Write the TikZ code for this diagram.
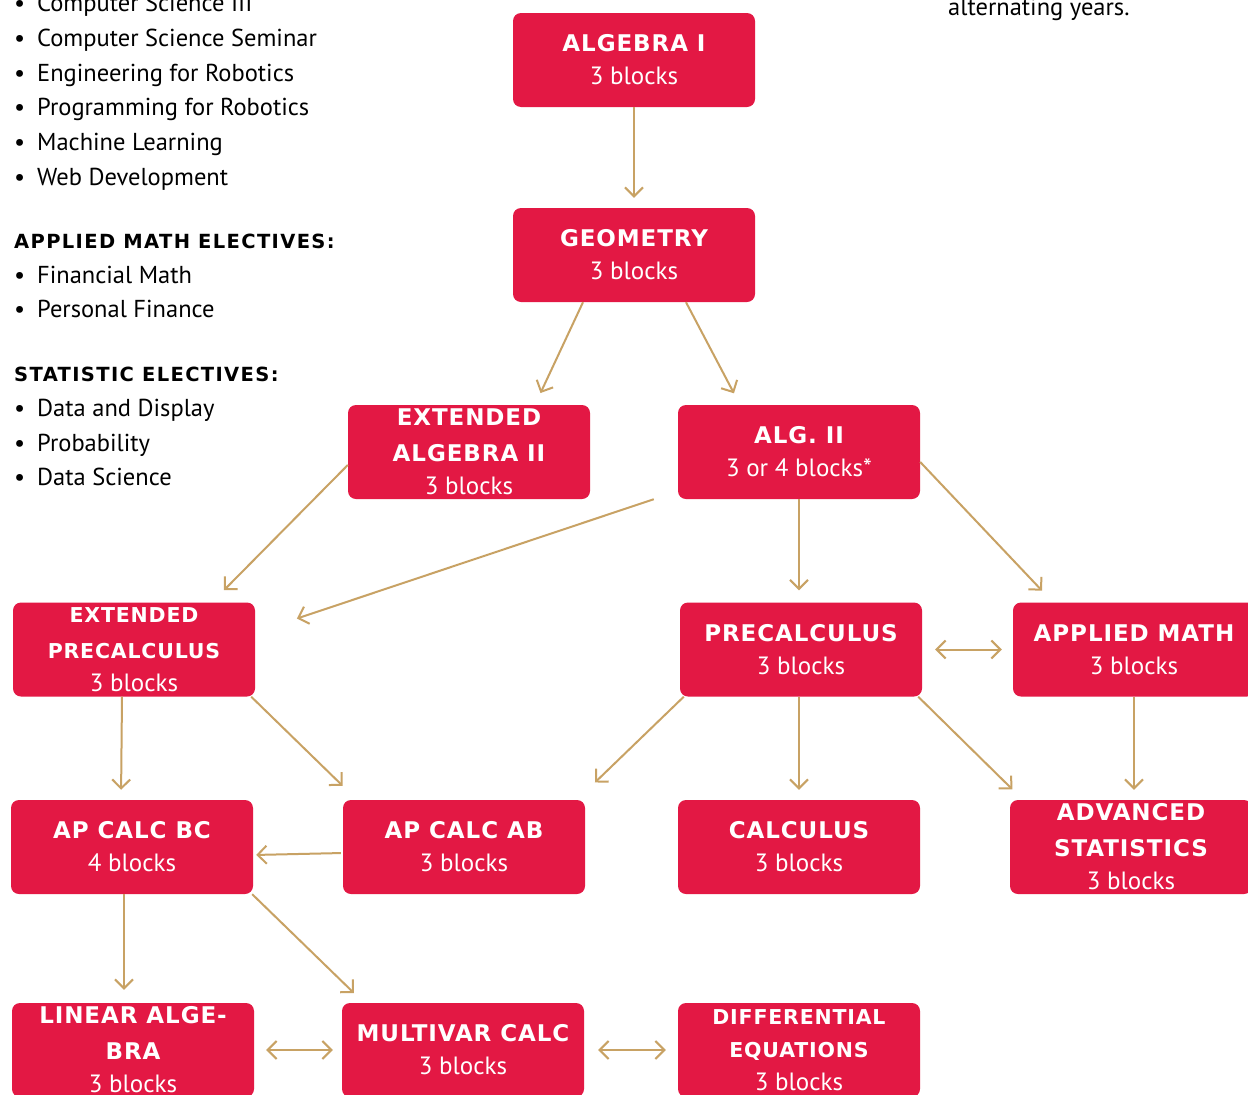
\documentclass[tikz,border=0pt]{standalone}
\usepackage{fontspec}
\setmainfont{PT Sans}
\newfontfamily\capsfont[LetterSpace=4]{DejaVu Sans}
\newfontfamily\headfont[LetterSpace=7]{DejaVu Sans}
\usetikzlibrary{arrows.meta}
\definecolor{coursered}{RGB}{227,24,68}
\definecolor{pathtan}{RGB}{200,162,100}
\newcommand\ttl{\capsfont\bfseries\fontsize{23}{36}\selectfont}
\newcommand\sttl{\capsfont\bfseries\fontsize{20.5}{36}\selectfont}

\begin{document}
\begin{tikzpicture}[
  x=1pt, y=-1pt,
  course/.style={fill=coursered, rounded corners=8pt, minimum width=242pt,
    minimum height=94pt, inner sep=0pt, text=white, align=center,
    font=\fontsize{25}{33}\selectfont},
  link/.style={draw=pathtan, line width=2pt, shorten >=10pt,
    -{Straight Barb[length=9pt,width=18pt]}},
  twoway/.style={link, {Straight Barb[length=9pt,width=18pt]}-{Straight Barb[length=9pt,width=18pt]}},
  item/.style={anchor=base west, inner sep=0pt, font=\fontsize{24.5}{28}\selectfont},
  heading/.style={anchor=base west, inner sep=0pt, font=\headfont\bfseries\fontsize{19.5}{24}\selectfont}
]
\useasboundingbox (0,0) rectangle (1248,1095);
\fill[white] (0,0) rectangle (1248,1095);
\clip (0,0) rectangle (1248,1095);

% Elective lists
\node[item] (cs3) at (37,11) {\llap{\textbullet\hspace{12pt}}Computer Science III};
\node[item] (csem) at (37,46) {\llap{\textbullet\hspace{12pt}}Computer Science Seminar};
\node[item] (engrob) at (37,81) {\llap{\textbullet\hspace{12pt}}Engineering for Robotics};
\node[item] (progrob) at (37,115.5) {\llap{\textbullet\hspace{12pt}}Programming for Robotics};
\node[item] (ml) at (37,150) {\llap{\textbullet\hspace{12pt}}Machine Learning};
\node[item] (webdev) at (37,185) {\llap{\textbullet\hspace{12pt}}Web Development};
\node[heading] (amhead) at (14,248) {APPLIED MATH ELECTIVES:};
\node[item] (finmath) at (37,283) {\llap{\textbullet\hspace{12pt}}Financial Math};
\node[item] (persfin) at (37,317.5) {\llap{\textbullet\hspace{12pt}}Personal Finance};
\node[heading] (stathead) at (14,381.5) {STATISTIC ELECTIVES:};
\node[item] (datadisp) at (37,416.5) {\llap{\textbullet\hspace{12pt}}Data and Display};
\node[item] (prob) at (37,451) {\llap{\textbullet\hspace{12pt}}Probability};
\node[item] (datasci) at (37,485.5) {\llap{\textbullet\hspace{12pt}}Data Science};
\node[item] (note) at (948,15) {alternating years.};

% Courses
\node[course] (alg1) at (634,60) {{\ttl ALGEBRA I}\\3 blocks};
\node[course] (geo) at (634,255) {{\ttl GEOMETRY}\\3 blocks};
\node[course] (extalg) at (469,452) {{\ttl EXTENDED}\\[3pt]{\ttl ALGEBRA II}\\3 blocks};
\node[course] (alg2) at (799,452) {{\ttl ALG. II}\\3 or 4 blocks*};
\node[course] (extpre) at (134,649.5) {{\sttl EXTENDED}\\[3pt]{\sttl PRECALCULUS}\\3 blocks};
\node[course] (precalc) at (801,649.5) {{\ttl PRECALCULUS}\\3 blocks};
\node[course] (applied) at (1134,649.5) {{\ttl APPLIED MATH}\\3 blocks};
\node[course] (apbc) at (132,847) {{\ttl AP CALC BC}\\4 blocks};
\node[course] (apab) at (464,847) {{\ttl AP CALC AB}\\3 blocks};
\node[course] (calc) at (799,847) {{\ttl CALCULUS}\\3 blocks};
\node[course] (advstat) at (1131,847) {{\ttl ADVANCED}\\[3pt]{\ttl STATISTICS}\\3 blocks};
\node[course] (linalg) at (133,1050) {{\ttl LINEAR ALGE-}\\[3pt]{\ttl BRA}\\3 blocks};
\node[course] (multi) at (463,1050) {{\ttl MULTIVAR CALC}\\3 blocks};
\node[course] (diffeq) at (799,1050) {{\sttl DIFFERENTIAL}\\{\sttl EQUATIONS}\\3 blocks};

% Pathways
\draw[link] (alg1) -- (geo);
\draw[link, shorten >=13pt] ([xshift=-51pt]geo.south) -- ([xshift=66pt]extalg.north);
\draw[link, shorten >=13pt] ([xshift=52pt]geo.south) -- ([xshift=-59pt]alg2.north);
\draw[link, shorten >=17pt] ([yshift=-13pt]extalg.west) -- ([xshift=78pt]extpre.north);
\draw[link, shorten >=44pt] ([xshift=-24pt]alg2.south west) -- ([yshift=17pt]extpre.east);
\draw[link, shorten >=12pt] (alg2.south) -- (alg2.south |- precalc.north);
\draw[link, shorten >=16pt] ([yshift=-10pt]alg2.east) -- ([xshift=-81pt]applied.north);
\draw[twoway, shorten <=13pt, shorten >=11pt] (precalc) -- (applied);
\draw[link] ([xshift=-12pt]extpre.south) -- ([xshift=-11pt]apbc.north);
\draw[link, shorten >=20pt] ([xshift=-4pt]extpre.south east) -- ([xshift=-107pt]apab.north);
\draw[link, shorten >=25pt] ([xshift=4pt]precalc.south west) -- ([xshift=113pt]apab.north);
\draw[link] (calc.north |- precalc.south) -- (calc);
\draw[link, shorten >=15pt] ([xshift=-4pt]precalc.south east) -- ([xshift=-108pt]advstat.north);
\draw[link] (applied.south) -- (applied.south |- advstat.north);
\draw[link, shorten >=3pt, shorten <=2pt] ([yshift=-6pt]apab.west) -- ([yshift=-8pt]apbc.east);
\draw[link, shorten >=13pt] ([xshift=-8pt]apbc.south) -- ([xshift=-9pt]linalg.north);
\draw[link, shorten >=14pt] ([xshift=-1pt]apbc.south east) -- ([xshift=-99pt]multi.north);
\draw[twoway, shorten <=12pt, shorten >=9pt] (linalg) -- (multi);
\draw[twoway, shorten <=14pt, shorten >=12pt] (multi) -- (diffeq);

\end{tikzpicture}
\end{document}
